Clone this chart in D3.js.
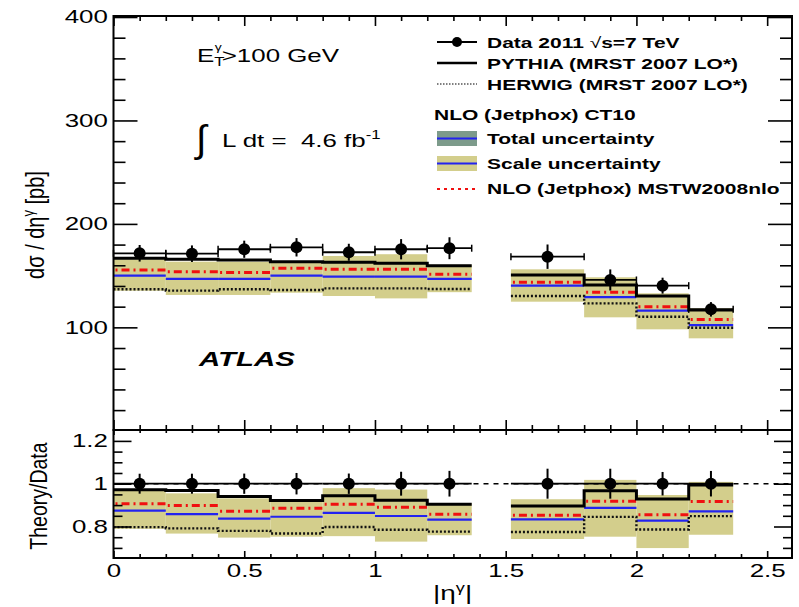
<!DOCTYPE html>
<html>
<head>
<meta charset="utf-8">
<style>
  body { margin: 0; background: #fff; }
  svg { font-family: "Liberation Sans", Arial, sans-serif; }
  .domain { display: none; }
  .tick line { stroke: #000; stroke-width: 1.6px; }
</style>
</head>
<body>
<svg width="799" height="607"></svg>
<script src="https://cdn.jsdelivr.net/npm/d3@7"></script>
<script>
// bins in |eta|
var binLo = [0, 0.2, 0.4, 0.6, 0.8, 1.0, 1.2, 1.52, 1.8, 2.0, 2.2]
var binHi = [0.2, 0.4, 0.6, 0.8, 1.0, 1.2, 1.37, 1.8, 2.0, 2.2, 2.37]
// dsigma/deta [pb]
var data = [171.6, 171.2, 175.5, 177.4, 172.6, 175.5, 176.5, 168.3, 145.8, 140.3, 117.4]
var dataErr = [8.0, 8.0, 8.3, 8.9, 8.2, 9.8, 10.6, 11.8, 10.2, 7.7, 7.0]
var pythia = [166.8, 165.8, 165.1, 163.5, 162.9, 161.9, 159.6, 150.7, 141.0, 130.2, 116.7]
var herwig = [136.8, 135.5, 136.8, 136.1, 137.7, 137.7, 137.0, 130.3, 123.2, 110.3, 99.6]
var ct10 = [150.0, 146.8, 146.8, 150.0, 149.0, 149.0, 146.8, 140.3, 129.3, 116.1, 102.2]
var scaleLo = [135.4, 131.3, 131.3, 133.5, 130.3, 128.0, 134.0, 124.8, 109.7, 98.1, 89.4]
var scaleHi = [165.8, 163.5, 163.5, 163.0, 169.0, 170.7, 160.5, 156.1, 148.4, 132.9, 118.4]
var mstw = [155.5, 153.8, 152.9, 157.1, 156.1, 156.1, 151.3, 143.5, 133.9, 120.0, 107.7]
// contiguous bin groups (crack region 1.37-1.52 left out)
var groups = [[0, 1, 2, 3, 4, 5, 6], [7, 8, 9, 10]]

var topTicks = [100, 200, 300, 400]
var ratioTicks = [0.8, 1, 1.2]
var xTicks = [0, 0.5, 1, 1.5, 2, 2.5]

var SX = 1.4 // the picture is stretched sideways, text too

var svg = d3.select("svg")
var x = d3.scaleLinear().domain([0, 2.595]).range([113.5, 792])
var yTop = d3.scaleLinear().domain([0, 400]).range([430.8, 17])
var yRat = d3.scaleLinear().domain([0.65, 1.25]).range([558.6, 430.2])

var khaki = "#d3ce8c", green = "#7d9b8b", blue = "#2323f0", red = "#f01010"

function label(g, px, py, s, o) {
    o = o || {}
    var t = g.append("text")
        .attr("transform", "translate(" + px + "," + py + ") scale(" + (o.sx || SX) + ",1)" + (o.rot ? " rotate(" + o.rot + ")" : ""))
        .attr("font-size", o.size || 18)
        .attr("font-weight", o.weight || "normal")
        .attr("font-style", o.style || "normal")
        .attr("text-anchor", o.anchor || "start")
    if (s) t.text(s)
    return t
}

function stepPts(vals, grp) {
    var pts = []
    grp.forEach(function (i) {
        pts.push([binLo[i], vals[i]])
        pts.push([binHi[i], vals[i]])
    })
    return pts
}

function drawPanel(g, y, f) {
    // f maps a theory value to what is drawn in this panel
    var idx = d3.range(data.length)
    g.selectAll("rect.band").data(idx).join("rect").attr("class", "band")
        .attr("x", function (i) { return x(binLo[i]) })
        .attr("width", function (i) { return x(binHi[i]) - x(binLo[i]) })
        .attr("y", function (i) { return y(f(scaleHi[i], i)) })
        .attr("height", function (i) { return y(f(scaleLo[i], i)) - y(f(scaleHi[i], i)) })
        .attr("fill", khaki)

    g.selectAll("line.ct10").data(idx).join("line").attr("class", "ct10")
        .attr("x1", function (i) { return x(binLo[i]) }).attr("x2", function (i) { return x(binHi[i]) })
        .attr("y1", function (i) { return y(f(ct10[i], i)) }).attr("y2", function (i) { return y(f(ct10[i], i)) })
        .attr("stroke", blue).attr("stroke-width", 2.2)

    g.selectAll("line.mstw").data(idx).join("line").attr("class", "mstw")
        .attr("x1", function (i) { return x(binLo[i]) + 2 }).attr("x2", function (i) { return x(binHi[i]) })
        .attr("y1", function (i) { return y(f(mstw[i], i)) }).attr("y2", function (i) { return y(f(mstw[i], i)) })
        .attr("stroke", red).attr("stroke-width", 3).attr("stroke-dasharray", "2,4,8,4")

    var line = d3.line().x(function (d) { return x(d[0]) }).y(function (d) { return y(d[1]) })
    groups.forEach(function (grp) {
        g.append("path").attr("d", line(stepPts(herwig.map(f), grp)))
            .attr("fill", "none").attr("stroke", "#111").attr("stroke-width", 2.4).attr("stroke-dasharray", "2,2")
        g.append("path").attr("d", line(stepPts(pythia.map(f), grp)))
            .attr("fill", "none").attr("stroke", "#000").attr("stroke-width", 3)
    })
}

// ---------- top panel ----------
var gTop = svg.append("g")
drawPanel(gTop, yTop, function (v) { return v })

var idx = d3.range(data.length)
gTop.selectAll("line.xerr").data(idx).join("line").attr("class", "xerr")
    .attr("x1", function (i) { return x(binLo[i]) }).attr("x2", function (i) { return x(binHi[i]) })
    .attr("y1", function (i) { return yTop(data[i]) }).attr("y2", function (i) { return yTop(data[i]) })
    .attr("stroke", "#000").attr("stroke-width", 1.8)
idx.forEach(function (i) {
    [binLo[i], binHi[i]].forEach(function (e) {
        gTop.append("line").attr("x1", x(e)).attr("x2", x(e))
            .attr("y1", yTop(data[i]) - 3.5).attr("y2", yTop(data[i]) + 3.5)
            .attr("stroke", "#000").attr("stroke-width", 1.5)
    })
})
gTop.selectAll("line.yerr").data(idx).join("line").attr("class", "yerr")
    .attr("x1", function (i) { return x((binLo[i] + binHi[i]) / 2) }).attr("x2", function (i) { return x((binLo[i] + binHi[i]) / 2) })
    .attr("y1", function (i) { return yTop(data[i] + dataErr[i]) }).attr("y2", function (i) { return yTop(data[i] - dataErr[i]) })
    .attr("stroke", "#000").attr("stroke-width", 2)
gTop.selectAll("circle").data(idx).join("circle")
    .attr("cx", function (i) { return x((binLo[i] + binHi[i]) / 2) })
    .attr("cy", function (i) { return yTop(data[i]) })
    .attr("r", 6).attr("fill", "#000")

// ---------- ratio panel ----------
var gRat = svg.append("g")
drawPanel(gRat, yRat, function (v, i) { return v / data[i] })
gRat.append("line").attr("x1", x.range()[0]).attr("x2", x.range()[1])
    .attr("y1", yRat(1)).attr("y2", yRat(1))
    .attr("stroke", "#000").attr("stroke-width", 1.5).attr("stroke-dasharray", "5,5")
gRat.selectAll("line.xerr").data(idx).join("line").attr("class", "xerr")
    .attr("x1", function (i) { return x(binLo[i]) }).attr("x2", function (i) { return x(binHi[i]) })
    .attr("y1", yRat(1)).attr("y2", yRat(1))
    .attr("stroke", "#000").attr("stroke-width", 1.8)
gRat.selectAll("line.yerr").data(idx).join("line").attr("class", "yerr")
    .attr("x1", function (i) { return x((binLo[i] + binHi[i]) / 2) }).attr("x2", function (i) { return x((binLo[i] + binHi[i]) / 2) })
    .attr("y1", function (i) { return yRat(1 + dataErr[i] / data[i]) }).attr("y2", function (i) { return yRat(1 - dataErr[i] / data[i]) })
    .attr("stroke", "#000").attr("stroke-width", 2)
gRat.selectAll("circle").data(idx).join("circle")
    .attr("cx", function (i) { return x((binLo[i] + binHi[i]) / 2) })
    .attr("cy", yRat(1)).attr("r", 6).attr("fill", "#000")

// ---------- axes ----------
var x0 = x.range()[0], x1 = x.range()[1]
var minorX = d3.range(0, 26).map(function (d) { return d / 10 }).filter(function (d) { return Math.round(d * 10) % 5 })
var minorTop = d3.range(20, 400, 20).filter(function (d) { return d % 100 })
var minorRat = d3.range(14, 25).map(function (d) { return d / 20 }).filter(function (d) { return ratioTicks.indexOf(+d.toFixed(2)) < 0 })

function ax(gen, tx, ty, len) {
    return svg.append("g").attr("transform", "translate(" + tx + "," + ty + ")")
        .call(gen.tickSizeInner(-len).tickSizeOuter(0))
}
// top panel
ax(d3.axisLeft(yTop).tickValues(topTicks).tickPadding(4), x0, 0, 24)
ax(d3.axisLeft(yTop).tickValues(minorTop).tickFormat(""), x0, 0, 12)
ax(d3.axisRight(yTop).tickValues(topTicks).tickFormat(""), x1, 0, 24)
ax(d3.axisRight(yTop).tickValues(minorTop).tickFormat(""), x1, 0, 12)
ax(d3.axisTop(x).tickValues(xTicks).tickFormat(""), 0, 16, 10)
ax(d3.axisTop(x).tickValues(minorX).tickFormat(""), 0, 16, 5)
ax(d3.axisBottom(x).tickValues(xTicks).tickFormat(""), 0, 430, 10)
ax(d3.axisBottom(x).tickValues(minorX).tickFormat(""), 0, 430, 5)
// ratio panel
ax(d3.axisLeft(yRat).tickValues(ratioTicks).tickPadding(4).tickFormat(d3.format("~g")), x0, 0, 18)
ax(d3.axisLeft(yRat).tickValues(minorRat).tickFormat(""), x0, 0, 9)
ax(d3.axisRight(yRat).tickValues(ratioTicks).tickFormat(""), x1, 0, 18)
ax(d3.axisRight(yRat).tickValues(minorRat).tickFormat(""), x1, 0, 9)
ax(d3.axisTop(x).tickValues(xTicks).tickFormat(""), 0, 430, 5)
ax(d3.axisTop(x).tickValues(minorX).tickFormat(""), 0, 430, 3)
ax(d3.axisBottom(x).tickValues(xTicks).tickPadding(6).tickFormat(d3.format("~g")), 0, 558, 7)
ax(d3.axisBottom(x).tickValues(minorX).tickFormat(""), 0, 558, 4)

svg.selectAll(".tick text")
    .attr("font-family", "Liberation Sans, Arial, sans-serif")
    .attr("font-size", 18.5).attr("fill", "#000")
    .attr("transform", "scale(" + SX + ",1)")

// frames
svg.append("rect").attr("x", x0).attr("y", 16).attr("width", x1 - x0).attr("height", 430 - 16)
    .attr("fill", "none").attr("stroke", "#000").attr("stroke-width", 2)
svg.append("rect").attr("x", x0).attr("y", 430).attr("width", x1 - x0).attr("height", 558 - 430)
    .attr("fill", "none").attr("stroke", "#000").attr("stroke-width", 2)

// ---------- titles ----------
var yl = label(svg, 44, 225, null, { size: 20, anchor: "middle", rot: -90, sx: 1.25 })
yl.append("tspan").text("dσ / dη")
yl.append("tspan").attr("dy", -8).attr("font-size", 13).text("γ")
yl.append("tspan").attr("dy", 8).text(" [pb]")
label(svg, 47, 496, "Theory/Data", { size: 19.5, anchor: "middle", rot: -90, sx: 1.25 })

var xl = label(svg, 433, 600, null, { size: 20 })
xl.append("tspan").text("|η")
xl.append("tspan").attr("dy", -8).attr("font-size", 13).text("γ")
xl.append("tspan").attr("dy", 8).text("|")

var et = label(svg, 197, 62, null, { size: 18.5 })
et.append("tspan").text("E")
et.append("tspan").attr("dy", 4).attr("font-size", 12).text("T")
et.append("tspan").attr("dx", -7).attr("dy", -15).attr("font-size", 10).text("γ")
et.append("tspan").attr("dy", 11).text(">100 GeV")

label(svg, 196, 152, "∫", { size: 38, sx: 1.0 })
var lum = label(svg, 222, 147, null, { size: 18.5 })
lum.append("tspan").text("L dt =\u00a0\u00a04.6 fb")
lum.append("tspan").attr("dy", -8).attr("font-size", 12).text("-1")

label(svg, 199, 366, "ATLAS", { size: 21, weight: "bold", style: "italic" })

// ---------- legend ----------
var lg = svg.append("g")
var lx0 = 437, lx1 = 477, tx = 487
lg.append("line").attr("x1", lx0).attr("x2", lx1).attr("y1", 42).attr("y2", 42).attr("stroke", "#000").attr("stroke-width", 2)
lg.append("circle").attr("cx", (lx0 + lx1) / 2).attr("cy", 42).attr("r", 5)
lg.append("line").attr("x1", lx0).attr("x2", lx1).attr("y1", 63).attr("y2", 63).attr("stroke", "#000").attr("stroke-width", 2.5)
lg.append("line").attr("x1", lx0).attr("x2", lx1).attr("y1", 84).attr("y2", 84).attr("stroke", "#555").attr("stroke-width", 1.5).attr("stroke-dasharray", "1.5,1.5")
lg.append("rect").attr("x", lx0).attr("y", 131).attr("width", lx1 - lx0).attr("height", 15).attr("fill", green)
lg.append("rect").attr("x", lx0).attr("y", 156).attr("width", lx1 - lx0).attr("height", 15).attr("fill", khaki)
lg.append("line").attr("x1", lx0).attr("x2", lx1).attr("y1", 138.5).attr("y2", 138.5).attr("stroke", blue).attr("stroke-width", 2)
lg.append("line").attr("x1", lx0).attr("x2", lx1).attr("y1", 163.5).attr("y2", 163.5).attr("stroke", blue).attr("stroke-width", 2)
lg.append("line").attr("x1", lx0).attr("x2", lx1).attr("y1", 189).attr("y2", 189).attr("stroke", red).attr("stroke-width", 2).attr("stroke-dasharray", "3,4")

var d1 = label(lg, tx, 47.5, null, { size: 15, weight: "bold" })
d1.append("tspan").text("Data 2011 ")
d1.append("tspan").attr("font-weight", "normal").text("√")
d1.append("tspan").text("s=7 TeV")
label(lg, tx, 68.5, "PYTHIA (MRST 2007 LO*)", { size: 15, weight: "bold" })
label(lg, tx, 89.5, "HERWIG (MRST 2007 LO*)", { size: 15, weight: "bold" })
label(lg, 434, 119.5, "NLO (Jetphox) CT10", { size: 15, weight: "bold" })
label(lg, tx, 143.5, "Total uncertainty", { size: 15, weight: "bold" })
label(lg, tx, 168.5, "Scale uncertainty", { size: 15, weight: "bold" })
label(lg, tx, 193.5, "NLO (Jetphox) MSTW2008nlo", { size: 15, weight: "bold" })
</script>
</body>
</html>
